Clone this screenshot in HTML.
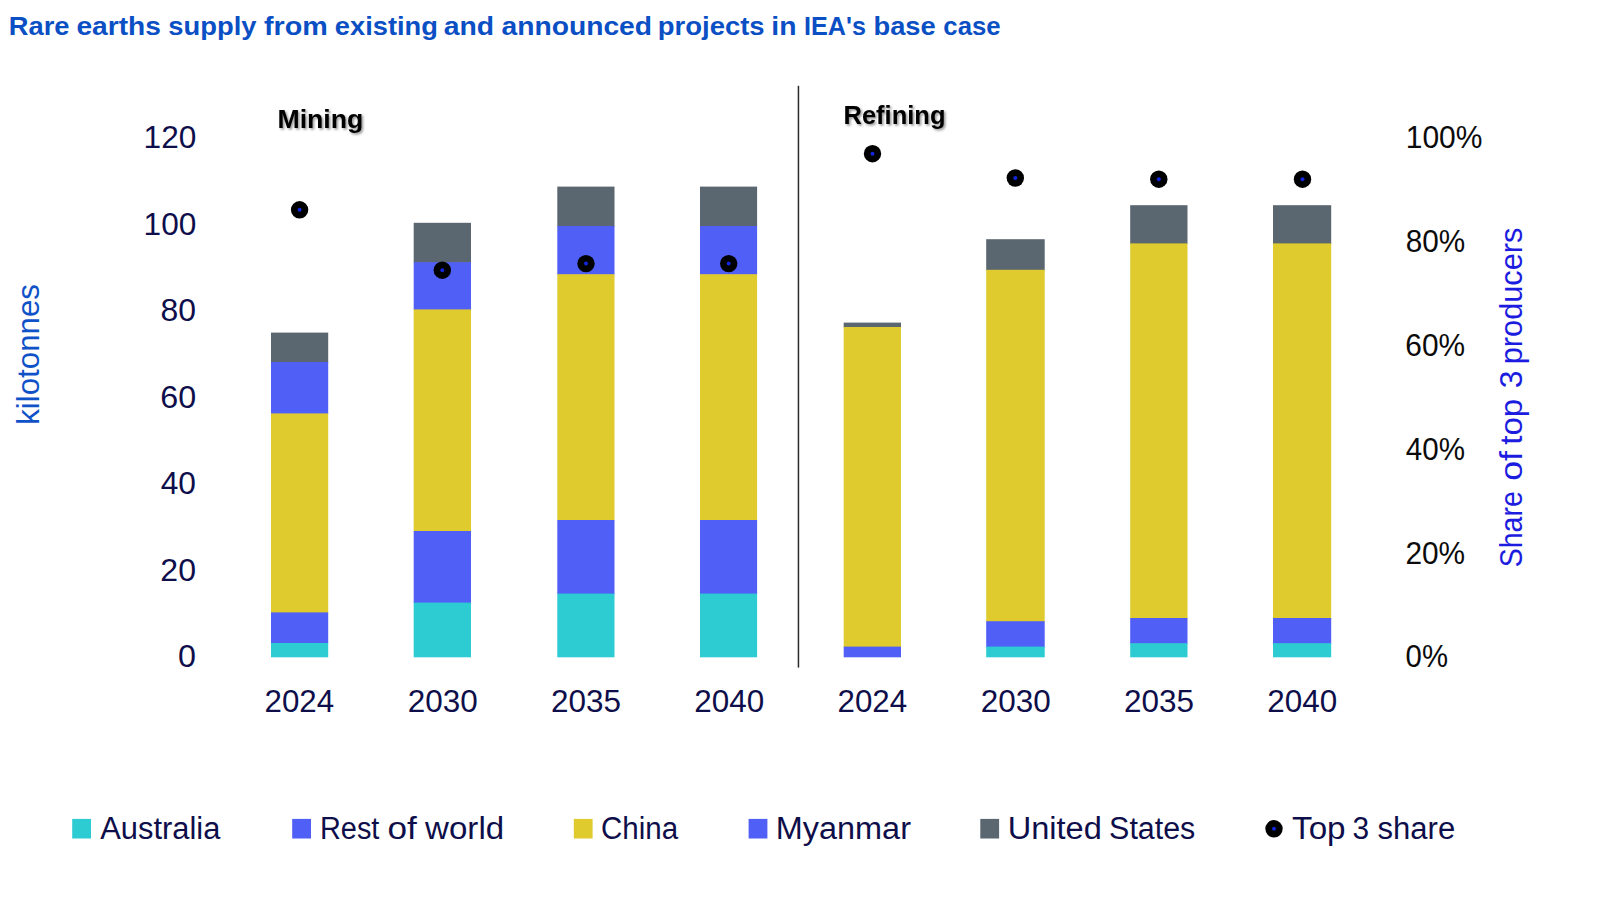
<!DOCTYPE html>
<html lang="en">
<head>
<meta charset="utf-8">
<title>Rare earths supply from existing and announced projects in IEA's base case</title>
<style>
html,body{margin:0;padding:0;background:#ffffff;}
body{width:1600px;height:910px;overflow:hidden;}
svg{display:block;}
text{font-family:"Liberation Sans",Arial,sans-serif;}
</style>
</head>
<body>
<svg width="1600" height="910" viewBox="0 0 1600 910">
<defs><filter id="sh" x="-10%" y="-20%" width="130%" height="160%"><feDropShadow dx="1.6" dy="1.6" stdDeviation="1" flood-color="#000" flood-opacity="0.42"/></filter></defs>
<rect x="0" y="0" width="1600" height="910" fill="#ffffff"/>
<g>
<rect x="271.00" y="332.60" width="57.20" height="30.10" fill="#5B6770"/>
<rect x="271.00" y="362.00" width="57.20" height="52.10" fill="#505FF5"/>
<rect x="271.00" y="413.40" width="57.20" height="199.70" fill="#DFCB2D"/>
<rect x="271.00" y="612.40" width="57.20" height="31.30" fill="#505FF5"/>
<rect x="271.00" y="643.00" width="57.20" height="14.30" fill="#2DCBD2"/>
<rect x="413.70" y="222.80" width="57.30" height="40.10" fill="#5B6770"/>
<rect x="413.70" y="262.20" width="57.30" height="47.90" fill="#505FF5"/>
<rect x="413.70" y="309.40" width="57.30" height="222.30" fill="#DFCB2D"/>
<rect x="413.70" y="531.00" width="57.30" height="72.30" fill="#505FF5"/>
<rect x="413.70" y="602.60" width="57.30" height="54.70" fill="#2DCBD2"/>
<rect x="557.30" y="186.60" width="57.20" height="40.10" fill="#5B6770"/>
<rect x="557.30" y="226.00" width="57.20" height="48.90" fill="#505FF5"/>
<rect x="557.30" y="274.20" width="57.20" height="246.50" fill="#DFCB2D"/>
<rect x="557.30" y="520.00" width="57.20" height="74.30" fill="#505FF5"/>
<rect x="557.30" y="593.60" width="57.20" height="63.70" fill="#2DCBD2"/>
<rect x="700.00" y="186.60" width="57.10" height="40.10" fill="#5B6770"/>
<rect x="700.00" y="226.00" width="57.10" height="48.90" fill="#505FF5"/>
<rect x="700.00" y="274.20" width="57.10" height="246.50" fill="#DFCB2D"/>
<rect x="700.00" y="520.00" width="57.10" height="74.30" fill="#505FF5"/>
<rect x="700.00" y="593.60" width="57.10" height="63.70" fill="#2DCBD2"/>
<rect x="843.70" y="322.60" width="57.30" height="5.10" fill="#5B6770"/>
<rect x="843.70" y="327.00" width="57.30" height="320.30" fill="#DFCB2D"/>
<rect x="843.70" y="646.60" width="57.30" height="10.70" fill="#505FF5"/>
<rect x="986.20" y="239.20" width="58.50" height="31.30" fill="#5B6770"/>
<rect x="986.20" y="269.80" width="58.50" height="352.10" fill="#DFCB2D"/>
<rect x="986.20" y="621.20" width="58.50" height="26.10" fill="#505FF5"/>
<rect x="986.20" y="646.60" width="58.50" height="10.70" fill="#2DCBD2"/>
<rect x="1130.20" y="205.20" width="57.30" height="38.90" fill="#5B6770"/>
<rect x="1130.20" y="243.40" width="57.30" height="375.30" fill="#DFCB2D"/>
<rect x="1130.20" y="618.00" width="57.30" height="25.90" fill="#505FF5"/>
<rect x="1130.20" y="643.20" width="57.30" height="14.10" fill="#2DCBD2"/>
<rect x="1273.00" y="205.20" width="58.20" height="38.90" fill="#5B6770"/>
<rect x="1273.00" y="243.40" width="58.20" height="375.30" fill="#DFCB2D"/>
<rect x="1273.00" y="618.00" width="58.20" height="25.90" fill="#505FF5"/>
<rect x="1273.00" y="643.20" width="58.20" height="14.10" fill="#2DCBD2"/>
</g>
<rect x="797.7" y="85.8" width="1.5" height="581.8" fill="#2a2a2a"/>
<circle cx="299.6" cy="209.8" r="8.7" fill="#000"/><circle cx="299.6" cy="209.8" r="2.0" fill="#1226dc"/>
<circle cx="442.3" cy="270.2" r="8.7" fill="#000"/><circle cx="442.3" cy="270.2" r="2.0" fill="#1226dc"/>
<circle cx="586.0" cy="263.6" r="8.7" fill="#000"/><circle cx="586.0" cy="263.6" r="2.0" fill="#1226dc"/>
<circle cx="728.7" cy="263.6" r="8.7" fill="#000"/><circle cx="728.7" cy="263.6" r="2.0" fill="#1226dc"/>
<circle cx="872.5" cy="153.7" r="8.7" fill="#000"/><circle cx="872.5" cy="153.7" r="2.0" fill="#1226dc"/>
<circle cx="1015.3" cy="178.0" r="8.7" fill="#000"/><circle cx="1015.3" cy="178.0" r="2.0" fill="#1226dc"/>
<circle cx="1158.8" cy="179.2" r="8.7" fill="#000"/><circle cx="1158.8" cy="179.2" r="2.0" fill="#1226dc"/>
<circle cx="1302.5" cy="179.2" r="8.7" fill="#000"/><circle cx="1302.5" cy="179.2" r="2.0" fill="#1226dc"/>
<rect x="72.2" y="818.9" width="18.8" height="19.6" fill="#2DCBD2"/>
<rect x="292.2" y="818.9" width="18.8" height="19.6" fill="#505FF5"/>
<rect x="573.8" y="818.9" width="18.8" height="19.6" fill="#DFCB2D"/>
<rect x="748.6" y="818.9" width="18.8" height="19.6" fill="#505FF5"/>
<rect x="980.3" y="818.9" width="18.8" height="19.6" fill="#5B6770"/>
<circle cx="1274" cy="828.8" r="8.7" fill="#000"/><circle cx="1274" cy="828.8" r="2.0" fill="#1226dc"/>
<text font-size="25.8" fill="#0B4FC4" font-weight="bold"><tspan x="8.78" y="34.70" textLength="60.71" lengthAdjust="spacingAndGlyphs">Rare</tspan> <tspan x="76.40" y="34.70" textLength="84.55" lengthAdjust="spacingAndGlyphs">earths</tspan> <tspan x="168.26" y="34.70" textLength="88.21" lengthAdjust="spacingAndGlyphs">supply</tspan> <tspan x="264.06" y="34.70" textLength="63.83" lengthAdjust="spacingAndGlyphs">from</tspan> <tspan x="334.89" y="34.70" textLength="102.96" lengthAdjust="spacingAndGlyphs">existing</tspan> <tspan x="443.70" y="34.70" textLength="50.40" lengthAdjust="spacingAndGlyphs">and</tspan> <tspan x="501.45" y="34.70" textLength="150.61" lengthAdjust="spacingAndGlyphs">announced</tspan> <tspan x="657.79" y="34.70" textLength="106.83" lengthAdjust="spacingAndGlyphs">projects</tspan> <tspan x="771.28" y="34.70" textLength="25.18" lengthAdjust="spacingAndGlyphs">in</tspan> <tspan x="804.00" y="34.70" textLength="61.88" lengthAdjust="spacingAndGlyphs">IEA's</tspan> <tspan x="873.46" y="34.70" textLength="62.28" lengthAdjust="spacingAndGlyphs">base</tspan> <tspan x="943.33" y="34.70" textLength="57.30" lengthAdjust="spacingAndGlyphs">case</tspan></text>
<text font-size="25.6" fill="#000" font-weight="bold" filter="url(#sh)"><tspan x="277.41" y="127.50" textLength="85.95" lengthAdjust="spacingAndGlyphs">Mining</tspan></text>
<text font-size="25.6" fill="#000" font-weight="bold" filter="url(#sh)"><tspan x="843.55" y="123.90" textLength="101.91" lengthAdjust="spacingAndGlyphs">Refining</tspan></text>
<text font-size="30.8" fill="#0E0E4A"><tspan x="178.00" y="667.30" textLength="17.96" lengthAdjust="spacingAndGlyphs">0</tspan></text>
<text font-size="30.8" fill="#0E0E4A"><tspan x="160.31" y="580.80" textLength="35.68" lengthAdjust="spacingAndGlyphs">20</tspan></text>
<text font-size="30.8" fill="#0E0E4A"><tspan x="160.71" y="494.30" textLength="35.29" lengthAdjust="spacingAndGlyphs">40</tspan></text>
<text font-size="30.8" fill="#0E0E4A"><tspan x="160.26" y="407.80" textLength="35.90" lengthAdjust="spacingAndGlyphs">60</tspan></text>
<text font-size="30.8" fill="#0E0E4A"><tspan x="160.42" y="321.30" textLength="35.55" lengthAdjust="spacingAndGlyphs">80</tspan></text>
<text font-size="30.8" fill="#0E0E4A"><tspan x="143.57" y="234.80" textLength="52.74" lengthAdjust="spacingAndGlyphs">100</tspan></text>
<text font-size="30.8" fill="#0E0E4A"><tspan x="143.57" y="148.30" textLength="52.74" lengthAdjust="spacingAndGlyphs">120</tspan></text>
<text font-size="30.8" fill="#0b0b0b"><tspan x="1405.62" y="667.40" textLength="42.38" lengthAdjust="spacingAndGlyphs">0%</tspan></text>
<text font-size="30.8" fill="#0b0b0b"><tspan x="1405.39" y="563.60" textLength="59.71" lengthAdjust="spacingAndGlyphs">20%</tspan></text>
<text font-size="30.8" fill="#0b0b0b"><tspan x="1405.80" y="459.80" textLength="59.15" lengthAdjust="spacingAndGlyphs">40%</tspan></text>
<text font-size="30.8" fill="#0b0b0b"><tspan x="1405.35" y="356.00" textLength="59.76" lengthAdjust="spacingAndGlyphs">60%</tspan></text>
<text font-size="30.8" fill="#0b0b0b"><tspan x="1405.70" y="252.20" textLength="59.45" lengthAdjust="spacingAndGlyphs">80%</tspan></text>
<text font-size="30.8" fill="#0b0b0b"><tspan x="1405.77" y="148.40" textLength="76.70" lengthAdjust="spacingAndGlyphs">100%</tspan></text>
<text font-size="30.6" fill="#0E0E4A"><tspan x="264.57" y="711.90" textLength="69.57" lengthAdjust="spacingAndGlyphs">2024</tspan></text>
<text font-size="30.6" fill="#0E0E4A"><tspan x="407.74" y="711.90" textLength="70.00" lengthAdjust="spacingAndGlyphs">2030</tspan></text>
<text font-size="30.6" fill="#0E0E4A"><tspan x="550.96" y="711.90" textLength="70.00" lengthAdjust="spacingAndGlyphs">2035</tspan></text>
<text font-size="30.6" fill="#0E0E4A"><tspan x="694.35" y="711.90" textLength="69.95" lengthAdjust="spacingAndGlyphs">2040</tspan></text>
<text font-size="30.6" fill="#0E0E4A"><tspan x="837.57" y="711.90" textLength="69.57" lengthAdjust="spacingAndGlyphs">2024</tspan></text>
<text font-size="30.6" fill="#0E0E4A"><tspan x="980.74" y="711.90" textLength="70.00" lengthAdjust="spacingAndGlyphs">2030</tspan></text>
<text font-size="30.6" fill="#0E0E4A"><tspan x="1123.96" y="711.90" textLength="70.00" lengthAdjust="spacingAndGlyphs">2035</tspan></text>
<text font-size="30.6" fill="#0E0E4A"><tspan x="1267.35" y="711.90" textLength="69.95" lengthAdjust="spacingAndGlyphs">2040</tspan></text>
<text font-size="30.6" fill="#0E0E4A"><tspan x="100.22" y="838.80" textLength="120.08" lengthAdjust="spacingAndGlyphs">Australia</tspan></text>
<text font-size="30.6" fill="#0E0E4A"><tspan x="319.94" y="838.80" textLength="59.43" lengthAdjust="spacingAndGlyphs">Rest</tspan> <tspan x="387.51" y="838.80" textLength="29.32" lengthAdjust="spacingAndGlyphs">of</tspan> <tspan x="425.14" y="838.80" textLength="78.98" lengthAdjust="spacingAndGlyphs">world</tspan></text>
<text font-size="30.6" fill="#0E0E4A"><tspan x="601.02" y="838.80" textLength="77.13" lengthAdjust="spacingAndGlyphs">China</tspan></text>
<text font-size="30.6" fill="#0E0E4A"><tspan x="775.74" y="838.80" textLength="135.22" lengthAdjust="spacingAndGlyphs">Myanmar</tspan></text>
<text font-size="30.6" fill="#0E0E4A"><tspan x="1007.74" y="838.80" textLength="94.10" lengthAdjust="spacingAndGlyphs">United</tspan> <tspan x="1109.12" y="838.80" textLength="86.19" lengthAdjust="spacingAndGlyphs">States</tspan></text>
<text font-size="30.6" fill="#0E0E4A"><tspan x="1292.07" y="838.80" textLength="53.50" lengthAdjust="spacingAndGlyphs">Top</tspan> <tspan x="1352.46" y="838.80" textLength="16.60" lengthAdjust="spacingAndGlyphs">3</tspan> <tspan x="1377.53" y="838.80" textLength="77.68" lengthAdjust="spacingAndGlyphs">share</tspan></text>
<text transform="translate(39.00 0) rotate(-90)" font-size="31.6" fill="#0F52C8"><tspan x="-424.79" y="0" textLength="140.66" lengthAdjust="spacingAndGlyphs">kilotonnes</tspan></text>
<text transform="translate(1522.00 0) rotate(-90)" font-size="31.6" fill="#1C1CE0"><tspan x="-567.29" y="0" textLength="76.04" lengthAdjust="spacingAndGlyphs">Share</tspan> <tspan x="-480.86" y="0" textLength="29.91" lengthAdjust="spacingAndGlyphs">of</tspan> <tspan x="-444.69" y="0" textLength="45.86" lengthAdjust="spacingAndGlyphs">top</tspan> <tspan x="-388.38" y="0" textLength="17.73" lengthAdjust="spacingAndGlyphs">3</tspan> <tspan x="-364.33" y="0" textLength="136.80" lengthAdjust="spacingAndGlyphs">producers</tspan></text>
</svg>
</body>
</html>
